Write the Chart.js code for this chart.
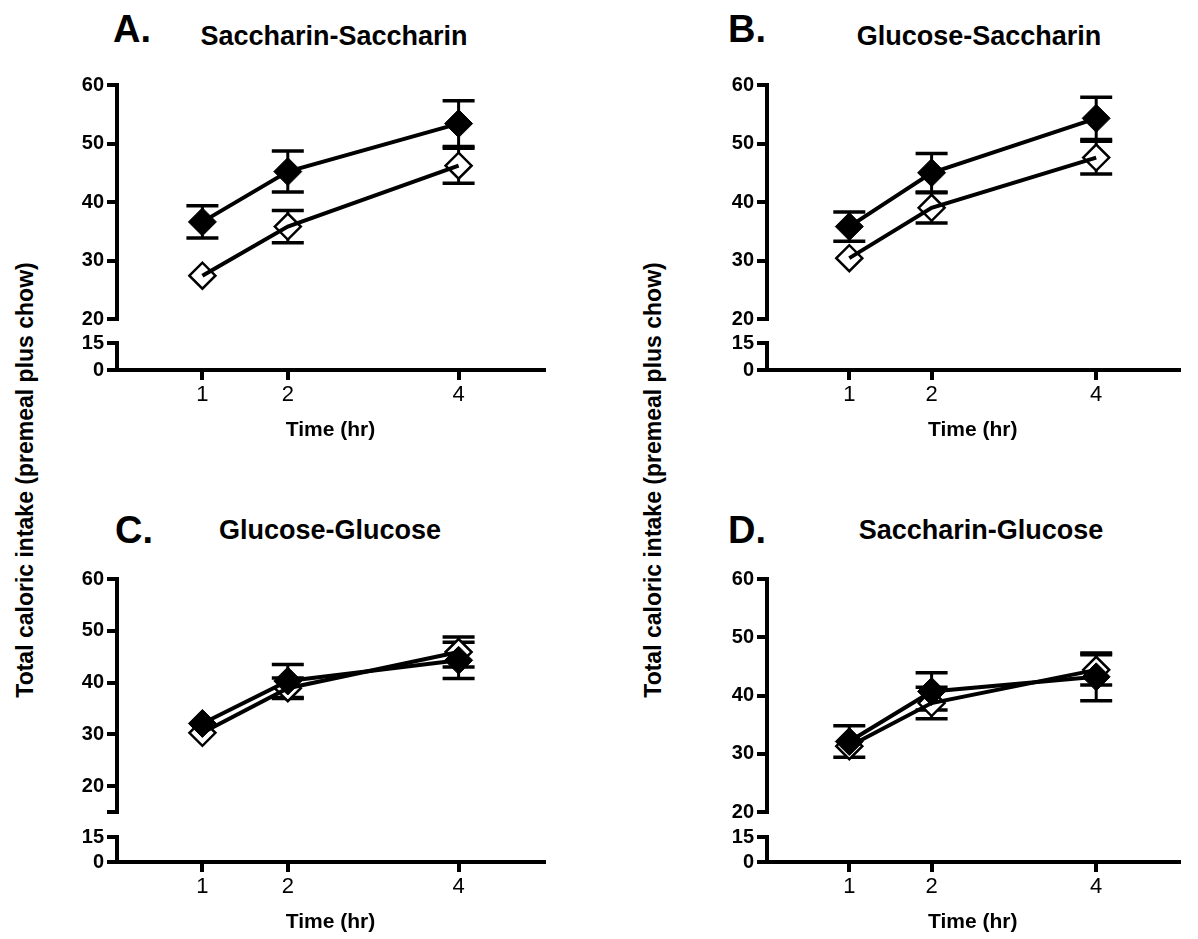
<!DOCTYPE html>
<html>
<head>
<meta charset="utf-8">
<script src="https://cdn.jsdelivr.net/npm/chart.js@4.4.1/dist/chart.umd.min.js"></script>
<style>
  body { margin: 0; background: #fff; }
  #page { position: relative; width: 1198px; height: 939px; overflow: hidden;
          font-family: 'Liberation Sans', Arial, sans-serif; color: #000; }
  canvas { position: absolute; }
  .letter { position: absolute; font-weight: bold; font-size: 38px; line-height: 1; }
  .title { position: absolute; font-weight: bold; font-size: 27px; line-height: 1;
           white-space: nowrap; transform: translateX(-50%); }
  .ylab { position: absolute; font-weight: bold; font-size: 23px; line-height: 1;
          white-space: nowrap; transform: translate(-50%, -50%) rotate(-90deg); }
</style>
</head>
<body>
<div id="page">
  <div class="letter" style="left:113px;top:10px">A.</div>
  <div class="title" style="left:334px;top:23px">Saccharin-Saccharin</div>
  <div class="letter" style="left:728px;top:10px">B.</div>
  <div class="title" style="left:979px;top:23px">Glucose-Saccharin</div>
  <div class="letter" style="left:115px;top:511px">C.</div>
  <div class="title" style="left:330px;top:517px">Glucose-Glucose</div>
  <div class="letter" style="left:728px;top:511px">D.</div>
  <div class="title" style="left:981px;top:517px">Saccharin-Glucose</div>

  <div class="ylab" style="left:25px;top:480px">Total caloric intake (premeal plus chow)</div>
  <div class="ylab" style="left:653px;top:480px">Total caloric intake (premeal plus chow)</div>

  <canvas id="chartA" width="545" height="405" style="left:20px;top:55px"></canvas>
  <canvas id="chartB" width="528" height="405" style="left:670px;top:55px"></canvas>
  <canvas id="chartC" width="545" height="389" style="left:20px;top:550px"></canvas>
  <canvas id="chartD" width="528" height="389" style="left:670px;top:550px"></canvas>
</div>

<script>
// time points and axis ticks
const hours = [1, 2, 4];
const xTicks = [1, 2, 4];
const upperTicks = [20, 30, 40, 50, 60];
const upperTicksC = [15, 20, 30, 40, 50, 60];
const lowerTicks = [0, 15];

// SEM is null where the bar is hidden behind the symbol

// A. Saccharin-Saccharin
const ssFilled = [36.6, 45.2, 53.4];
const ssFilledSem = [2.75, 3.5, 3.9];
const ssOpen = [27.4, 35.8, 46.2];
const ssOpenSem = [null, 2.75, 3.0];

// B. Glucose-Saccharin
const gsFilled = [35.8, 45.0, 54.3];
const gsFilledSem = [2.5, 3.3, 3.6];
const gsOpen = [30.4, 39.0, 47.6];
const gsOpenSem = [null, 2.6, 2.8];

// C. Glucose-Glucose
const ggFilled = [32.1, 40.3, 44.3];
const ggFilledSem = [null, 3.2, 3.5];
const ggOpen = [30.3, 38.9, 45.9];
const ggOpenSem = [null, 2.0, 2.9];

// D. Saccharin-Glucose
const sgFilled = [32.1, 40.7, 43.2];
const sgFilledSem = [2.7, 3.2, 4.1];
const sgOpen = [31.3, 38.7, 44.4];
const sgOpenSem = [null, 2.7, 2.6];

Chart.defaults.font.family = "'Liberation Sans', Arial, sans-serif";
Chart.defaults.color = '#000';

const YW = 60;   // width of the y axis column
const XH = 73;   // height of the x axis block

function points(means) {
  return hours.map((h, i) => ({x: h, y: means[i]}));
}

// vertical stems, separated by null so the line breaks
function stems(means, sems) {
  const out = [];
  hours.forEach((h, i) => {
    if (sems[i] == null) return;
    out.push({x: h, y: means[i] - sems[i]});
    out.push({x: h, y: means[i] + sems[i]});
    out.push({x: h, y: null});
  });
  return out;
}

function caps(means, sems) {
  const out = [];
  hours.forEach((h, i) => {
    if (sems[i] == null) return;
    out.push({x: h, y: means[i] - sems[i]});
    out.push({x: h, y: means[i] + sems[i]});
  });
  return out;
}

function setTicks(list) {
  return function(scale) {
    scale.ticks = list.map(v => ({value: v}));
  };
}

function yAxisGrid() {
  return {display: true, drawOnChartArea: false, drawTicks: true, tickLength: 10,
          tickWidth: 4, tickColor: '#000', color: '#000', lineWidth: 4};
}

function makePanel(id, box, area, weights, upperMin, upperList, filled, filledSem, open, openSem) {
  const ctx = document.getElementById(id);
  const pad = {
    left: area.l - box.x - YW,
    top: area.t - box.y,
    right: box.x + box.w - area.r,
    bottom: box.y + box.h - area.b - XH
  };
  const errStyle = {
    yAxisID: 'yTop', borderColor: '#000', backgroundColor: '#000',
    borderWidth: 3, pointRadius: 0, spanGaps: false, order: 3, tension: 0
  };
  const capStyle = {
    yAxisID: 'yTop', showLine: false, pointStyle: 'line', pointRadius: 16,
    pointHoverRadius: 16, pointBorderColor: '#000', pointBorderWidth: 3.5, order: 3
  };

  new Chart(ctx, {
    type: 'line',
    data: {
      datasets: [
        {
          label: 'filled', data: points(filled), yAxisID: 'yTop', order: 0,
          borderColor: '#000', borderWidth: 4, tension: 0,
          pointStyle: 'rectRot', pointRadius: 14, pointHoverRadius: 14,
          pointBackgroundColor: '#000', pointBorderColor: '#000', pointBorderWidth: 1
        },
        {
          // open series line, drawn over its own symbols
          label: 'open line', data: points(open), yAxisID: 'yTop', order: 1,
          borderColor: '#000', borderWidth: 4, tension: 0, pointRadius: 0
        },
        {
          label: 'open', data: points(open), yAxisID: 'yTop', order: 2,
          showLine: false,
          pointStyle: 'rectRot', pointRadius: 13, pointHoverRadius: 13,
          pointBackgroundColor: '#fff', pointBorderColor: '#000', pointBorderWidth: 2.5
        },
        Object.assign({label: 'filled sem', data: stems(filled, filledSem)}, errStyle),
        Object.assign({label: 'open sem', data: stems(open, openSem)}, errStyle),
        Object.assign({label: 'filled caps', data: caps(filled, filledSem)}, capStyle),
        Object.assign({label: 'open caps', data: caps(open, openSem)}, capStyle)
      ]
    },
    options: {
      responsive: false,
      animation: false,
      events: [],
      layout: {padding: pad},
      plugins: {legend: {display: false}, tooltip: {enabled: false}},
      scales: {
        x: {
          type: 'linear', position: 'bottom', min: 0, max: 5,
          afterBuildTicks: setTicks(xTicks),
          afterFit: s => { s.height = XH; },
          border: {display: true, color: '#000', width: 4},
          grid: {display: true, drawOnChartArea: false, drawTicks: true, tickLength: 10,
                 tickWidth: 4, tickColor: '#000', color: '#000', lineWidth: 4},
          ticks: {color: '#000', padding: 2, maxRotation: 0, autoSkip: false,
                  font: {size: 22, weight: 'normal'}},
          title: {display: true, text: 'Time (hr)', color: '#000', padding: 0,
                  font: {size: 21, weight: 'bold'}}
        },
        yLow: {
          type: 'linear', position: 'left', stack: 'y', stackWeight: weights[2],
          min: 0, max: 15,
          afterBuildTicks: setTicks(lowerTicks),
          afterFit: s => { s.width = YW; },
          border: {display: true, color: '#000', width: 4},
          grid: yAxisGrid(),
          ticks: {color: '#000', padding: 3, autoSkip: false, font: {size: 20, weight: 'bold'}}
        },
        yGap: {
          type: 'linear', position: 'left', stack: 'y', stackWeight: weights[1],
          min: 0, max: 1,
          afterFit: s => { s.width = YW; },
          border: {display: false},
          grid: {display: false},
          ticks: {display: false}
        },
        yTop: {
          type: 'linear', position: 'left', stack: 'y', stackWeight: weights[0],
          min: upperMin, max: 60,
          afterBuildTicks: setTicks(upperList),
          afterFit: s => { s.width = YW; },
          border: {display: true, color: '#000', width: 4},
          grid: yAxisGrid(),
          ticks: {color: '#000', padding: 3, autoSkip: false, font: {size: 20, weight: 'bold'},
                  callback: v => (v < 20 ? '' : v)}
        }
      }
    }
  });
}

makePanel('chartA', {x: 20, y: 55, w: 545, h: 405}, {l: 117, t: 85, r: 544, b: 370},
          [234, 24, 27], 20, upperTicks, ssFilled, ssFilledSem, ssOpen, ssOpenSem);
makePanel('chartB', {x: 670, y: 55, w: 528, h: 405}, {l: 767, t: 85, r: 1193, b: 370},
          [234, 24, 27], 20, upperTicks, gsFilled, gsFilledSem, gsOpen, gsOpenSem);
makePanel('chartC', {x: 20, y: 550, w: 545, h: 389}, {l: 117, t: 579, r: 544, b: 862},
          [233, 25, 25], 15, upperTicksC, ggFilled, ggFilledSem, ggOpen, ggOpenSem);
makePanel('chartD', {x: 670, y: 550, w: 528, h: 389}, {l: 767, t: 579, r: 1193, b: 862},
          [233, 25, 25], 20, upperTicks, sgFilled, sgFilledSem, sgOpen, sgOpenSem);
</script>
</body>
</html>
